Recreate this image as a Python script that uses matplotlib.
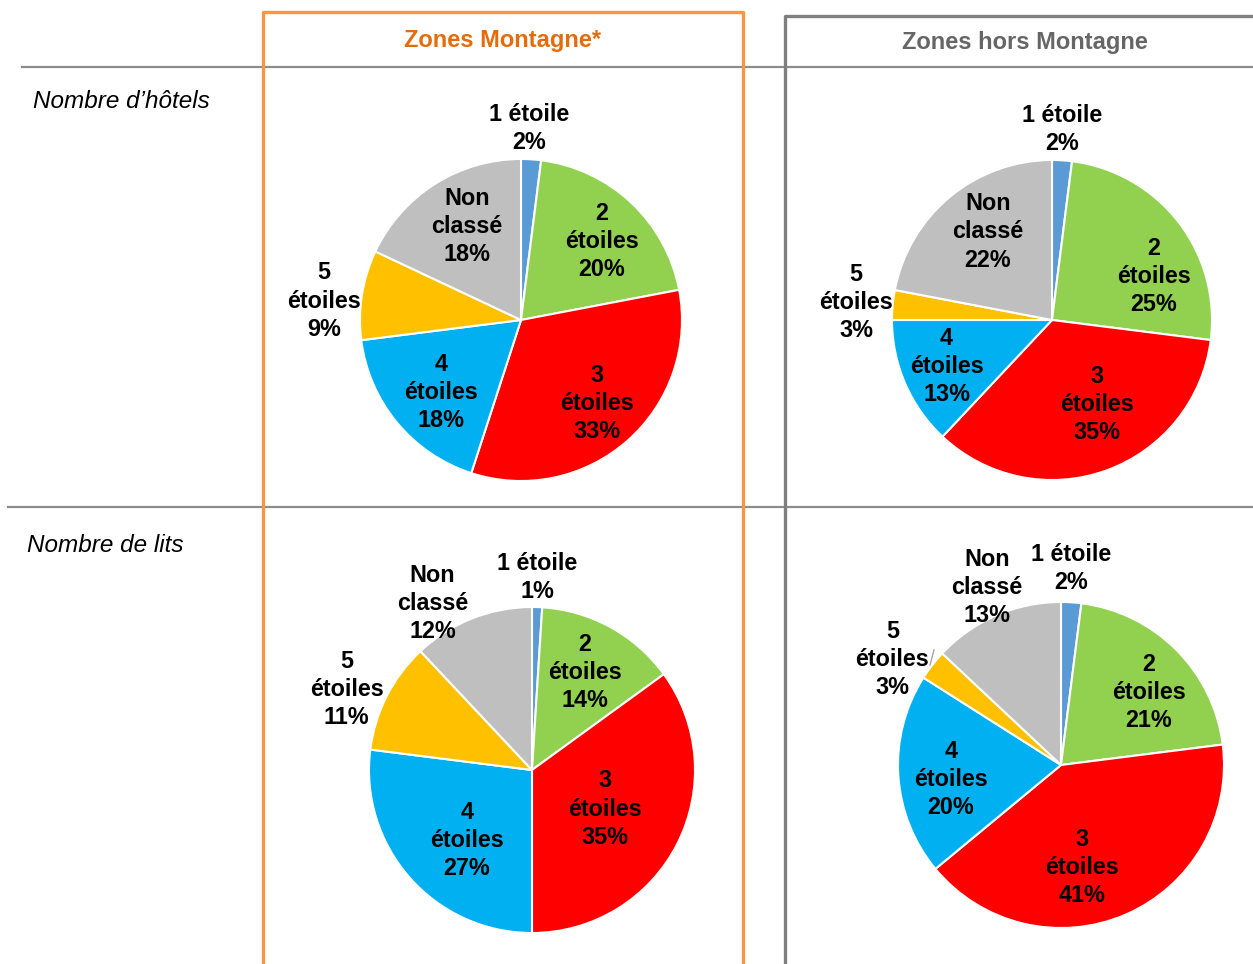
import numpy as np
import matplotlib.pyplot as plt

W, H = 1253, 964

categories = ["1 étoile", "2\nétoiles", "3\nétoiles", "4\nétoiles", "5\nétoiles", "Non\nclassé"]
colors = ["#5B9BD5", "#92D050", "#FF0000", "#00B0F0", "#FFC000", "#BFBFBF"]

hotels_montagne = [2, 20, 33, 18, 9, 18]
hotels_hors = [2, 25, 35, 13, 3, 22]
lits_montagne = [1, 14, 35, 27, 11, 12]
lits_hors = [2, 21, 41, 20, 3, 13]

col_titles = ["Zones Montagne*", "Zones hors Montagne"]
row_titles = ["Nombre d\u2019hôtels", "Nombre de lits"]

# layout: (center x, center y in image px, radius, label (distance, angle shift))
layout = [
    (hotels_montagne, 521, 320, 161,
     [(1.19, 1.2), (0.70, -2.8), (0.70, 0.7), (0.67, 2.8), (1.23, 3.5), (0.67, -2.4)]),
    (hotels_hors, 1052, 320, 160,
     [(1.19, 0.6), (0.69, -14.8), (0.60, 8.4), (0.72, 0.3), (1.23, 0.2), (0.68, -3.6)]),
    (lits_montagne, 532, 770, 163,
     [(1.18, 0.3), (0.68, 0.4), (0.51, -1.0), (0.59, 6.1), (1.24, 3.4), (1.19, 9.3)]),
    (lits_hors, 1061, 765, 163,
     [(1.21, 0.7), (0.70, -5.3), (0.64, -11.8), (0.68, 3.7), (1.22, 5.8), (1.18, -0.7)]),
]

fig = plt.figure(figsize=(W / 100, H / 100), dpi=100)
ax = fig.add_axes([0, 0, 1, 1])

font = "Liberation Sans"

for vals, cx, cy, r, lab in layout:
    wedges, _ = ax.pie(vals, colors=colors, startangle=90, counterclock=False,
                       center=(cx, H - cy), radius=r,
                       wedgeprops=dict(edgecolor="white", linewidth=1.5))
    for w, cat, v, (d, da) in zip(wedges, categories, vals, lab):
        mid = np.deg2rad((w.theta1 + w.theta2) / 2 + da)
        ax.text(cx + d * r * np.cos(mid), H - cy + d * r * np.sin(mid),
                f"{cat}\n{v}%", ha="center", va="center", fontsize=16.8,
                fontweight="bold", family=font, linespacing=1.28, color="black")

# leader line for small slice in bottom-right pie
ax.plot([934, 930], [H - 650, H - 665], color="#A6A6A6", lw=1)

# grid lines
ax.plot([22, W], [H - 67, H - 67], color="#8C8C8C", lw=1.6)
ax.plot([8, W], [H - 507, H - 507], color="#8C8C8C", lw=1.6)

# column boxes
ax.plot([263, 263, 743, 743], [-10, H - 12, H - 12, -10], color="#F79646", lw=2.4)
ax.plot([785, 785, W + 10], [-10, H - 16, H - 16], color="#7F7F7F", lw=2.4)

ax.text(503, H - 40, col_titles[0], ha="center", va="center", fontsize=17,
        fontweight="bold", family=font, color="#E46C0A")
ax.text(1025, H - 42, col_titles[1], ha="center", va="center", fontsize=17,
        fontweight="bold", family=font, color="#666666")

ax.text(33, H - 101, row_titles[0], ha="left", va="center", fontsize=17.5,
        style="italic", family=font, color="black")
ax.text(27, H - 545, row_titles[1], ha="left", va="center", fontsize=17.5,
        style="italic", family=font, color="black")

ax.set_xlim(0, W)
ax.set_ylim(0, H)
ax.set_aspect("auto")
ax.axis("off")

fig.savefig("out.png", dpi=100)
